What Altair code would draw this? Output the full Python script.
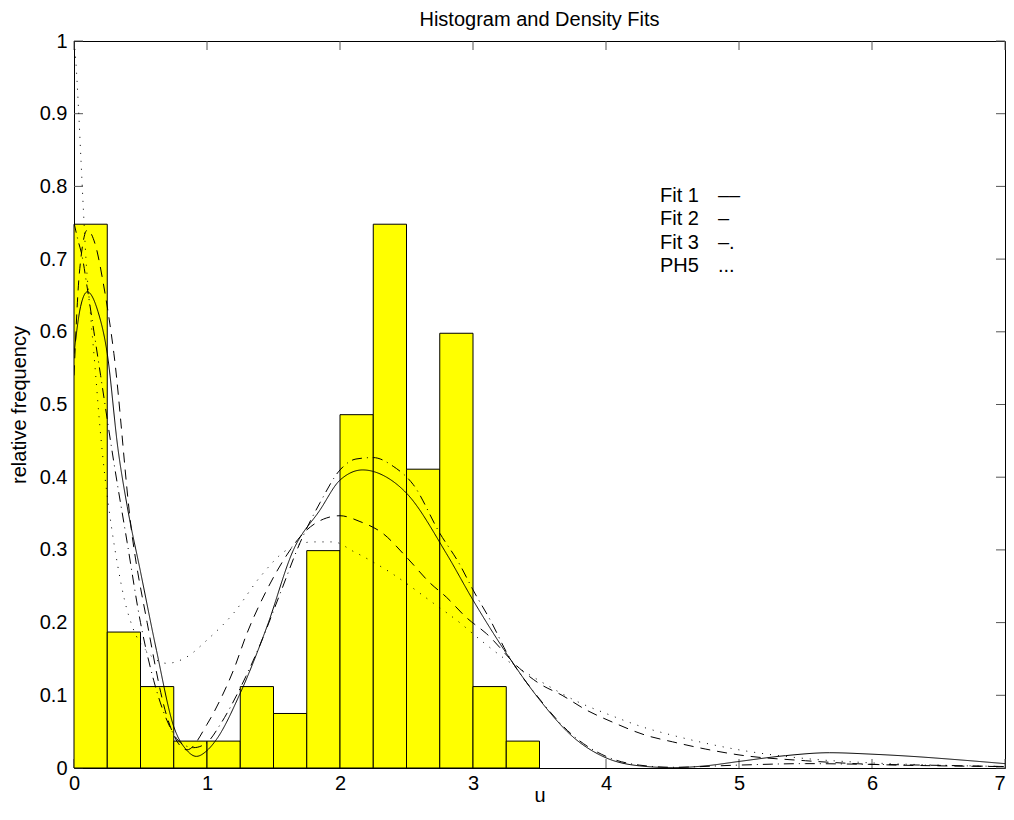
import altair as alt
import pandas as pd

# ---------------- data ----------------
bin_left = [0, 0.25, 0.5, 0.75, 1.0, 1.25, 1.5, 1.75, 2.0, 2.25, 2.5, 2.75, 3.0, 3.25]
bin_width = 0.25
bin_height = [0.748, 0.187, 0.112, 0.037, 0.037, 0.112, 0.075, 0.299, 0.486, 0.748, 0.411, 0.598, 0.112, 0.037]

fit1_u = [0, 0.04, 0.1, 0.16, 0.22, 0.3, 0.43, 0.55, 0.7, 0.85, 1.0, 1.1, 1.2, 1.3, 1.45, 1.6, 1.7, 1.9, 2.0,
          2.15, 2.32, 2.5, 2.68, 2.8, 2.95, 3.1, 3.35, 3.5, 3.67, 3.85, 4.05, 4.3, 4.5, 4.75, 5.0, 5.5, 6.0, 6.5, 7.0]
fit1_y = [0.54, 0.68, 0.74, 0.72, 0.667, 0.57, 0.33, 0.2, 0.07, 0.025, 0.06, 0.094, 0.135, 0.185, 0.245, 0.293,
          0.318, 0.344, 0.347, 0.339, 0.323, 0.29, 0.254, 0.235, 0.207, 0.185, 0.137, 0.116, 0.1, 0.08, 0.063,
          0.045, 0.036, 0.026, 0.018, 0.01, 0.005, 0.003, 0.002]

fit2_u = [0, 0.05, 0.1, 0.18, 0.25, 0.33, 0.4, 0.5, 0.62, 0.75, 0.85, 0.92, 1.0, 1.07, 1.25, 1.45, 1.65, 1.85,
          2.0, 2.17, 2.35, 2.5, 2.8, 3.0, 3.25, 3.5, 3.75, 4.0, 4.25, 4.5, 4.75, 5.0, 5.35, 5.68, 6.0, 6.3, 6.6, 7.0]
fit2_y = [0.57, 0.635, 0.655, 0.628, 0.57, 0.44, 0.36, 0.27, 0.162, 0.057, 0.024, 0.016, 0.024, 0.039, 0.103,
          0.194, 0.3, 0.355, 0.396, 0.41, 0.4, 0.378, 0.295, 0.231, 0.158, 0.094, 0.043, 0.014, 0.003, 0.0005,
          0.003, 0.009, 0.017, 0.021, 0.019, 0.016, 0.012, 0.006]

fit3_u = [0, 0.03, 0.06, 0.1, 0.15, 0.2, 0.3, 0.4, 0.5, 0.6, 0.7, 0.8, 0.9, 1.0, 1.1, 1.25, 1.4, 1.55, 1.7,
          1.85, 2.0, 2.12, 2.25, 2.4, 2.55, 2.75, 2.9, 3.0, 3.14, 3.25, 3.5, 3.75, 4.0, 4.25, 4.5, 5.0, 5.5, 6.0, 7.0]
fit3_y = [0.75, 0.726, 0.705, 0.66, 0.6, 0.54, 0.42, 0.31, 0.2, 0.12, 0.065, 0.035, 0.028, 0.035, 0.06, 0.11,
          0.17, 0.24, 0.31, 0.365, 0.41, 0.425, 0.427, 0.415, 0.39, 0.323, 0.28, 0.245, 0.2, 0.16, 0.095, 0.045,
          0.016, 0.004, 0.001, 0.004, 0.006, 0.005, 0.002]

ph5_u = [0, 0.013, 0.033, 0.053, 0.07, 0.09, 0.12, 0.158, 0.195, 0.233, 0.283, 0.33, 0.38, 0.44, 0.55, 0.7,
         0.85, 1.0, 1.2, 1.4, 1.6, 1.8, 1.95, 2.1, 2.37, 2.7, 2.9, 3.03, 3.24, 3.5, 3.8, 4.0, 4.3, 4.5, 5.0,
         5.5, 6.0, 6.5, 7.0]
ph5_y = [1.0, 0.974, 0.91, 0.834, 0.77, 0.7, 0.633, 0.552, 0.469, 0.4, 0.33, 0.277, 0.231, 0.194, 0.16, 0.144,
         0.153, 0.176, 0.213, 0.263, 0.3, 0.311, 0.311, 0.298, 0.27, 0.227, 0.2, 0.18, 0.15, 0.12, 0.09, 0.075,
         0.055, 0.045, 0.025, 0.013, 0.007, 0.004, 0.002]

series_names = ["Fit 1", "Fit 2", "Fit 3", "PH5"]
legend_symbols = ["––", "–", "–.", "..."]
x_ticks = [0, 1, 2, 3, 4, 5, 6, 7]
y_ticks = [0, 0.1, 0.2, 0.3, 0.4, 0.5, 0.6, 0.7, 0.8, 0.9, 1.0]
title_text = "Histogram and Density Fits"
x_title = "u"
y_title = "relative frequency"

# ---------------- tables ----------------
bars = pd.DataFrame({
    "left": bin_left,
    "right": [b + bin_width for b in bin_left],
    "h": bin_height,
})

curves = []
for name, us, ys in zip(series_names, [fit1_u, fit2_u, fit3_u, ph5_u], [fit1_y, fit2_y, fit3_y, ph5_y]):
    for u, y in zip(us, ys):
        curves.append({"series": name, "u": u, "y": y})
curves = pd.DataFrame(curves)

xt = pd.DataFrame({"v": x_ticks})
yt = pd.DataFrame({"v": y_ticks})

W, H = 931, 727
PAD_L, PAD_T, PAD_R, PAD_B = 66, 33, 1, 38
FONT = "Liberation Sans"
FS = 20

xscale = alt.Scale(domain=[0, 7], nice=False, zero=False)
yscale = alt.Scale(domain=[0, 1], nice=False)

base_x = alt.X("v:Q", scale=xscale)
base_y = alt.Y("v:Q", scale=yscale)

# inward ticks
tick_color = "#555555"
yt_left = alt.Chart(yt).mark_rule(color=tick_color).encode(y=base_y, x=alt.value(0), x2=alt.value(9))
yt_right = alt.Chart(yt).mark_rule(color=tick_color).encode(y=base_y, x=alt.value(W - 9), x2=alt.value(W))
xt_bot = alt.Chart(xt).mark_rule(color=tick_color).encode(x=base_x, y=alt.value(H - 9), y2=alt.value(H))
xt_top = alt.Chart(xt).mark_rule(color=tick_color).encode(x=base_x, y=alt.value(0), y2=alt.value(9))

# axes (labels only)
axes = alt.Chart(xt).mark_point(opacity=0).encode(
    x=alt.X("v:Q", scale=xscale,
            axis=alt.Axis(values=x_ticks, title=x_title, ticks=False, domain=False, grid=False,
                          labelPadding=5, format="d", labelFlush=False,
                          labelAlign={"expr": "datum.value >= 7 ? 'right' : 'center'"},
                          titleY=33, titleBaseline="alphabetic")),
    y=alt.Y("v2:Q", scale=yscale,
            axis=alt.Axis(values=y_ticks, title=y_title, ticks=False, domain=False, grid=False,
                          labelPadding=7, titlePadding=10, format=".1~f", labelFlush=False)),
).transform_calculate(v2="0")

hist = alt.Chart(bars).mark_rect(fill="#ffff00", stroke="black", strokeWidth=1).encode(
    x=alt.X("left:Q", scale=xscale),
    x2="right:Q",
    y=alt.Y("h:Q", scale=yscale),
    y2=alt.datum(0),
)

lines = alt.Chart(curves).mark_line(color="black", strokeWidth=1, interpolate="monotone", clip=True).encode(
    x=alt.X("u:Q", scale=xscale),
    y=alt.Y("y:Q", scale=yscale),
    detail="series:N",
    strokeDash=alt.StrokeDash("series:N",
                              scale=alt.Scale(domain=series_names,
                                              range=[[10, 7], [1, 0], [10, 5, 1, 5], [1, 7]]),
                              legend=None),
)

leg_layers = []
row_y = [155, 178, 202, 225]
for i in range(4):
    leg_layers.append(
        alt.Chart(pd.DataFrame({"t": [series_names[i]]})).mark_text(
            font=FONT, fontSize=FS, align="left", baseline="middle", color="black"
        ).encode(text="t:N", x=alt.value(586), y=alt.value(row_y[i]))
    )
    leg_layers.append(
        alt.Chart(pd.DataFrame({"t": [legend_symbols[i]]})).mark_text(
            font=FONT, fontSize=FS, align="left", baseline="middle", color="black"
        ).encode(text="t:N", x=alt.value(644), y=alt.value(row_y[i]))
    )

title = alt.Chart(pd.DataFrame({"t": [title_text]})).mark_text(
    font=FONT, fontSize=FS, align="center", baseline="alphabetic", color="black"
).encode(text="t:N", x=alt.value(W / 2), y=alt.value(-15))

chart = alt.layer(
    axes, yt_left, yt_right, xt_bot, xt_top, hist, lines, title, *leg_layers
).properties(
    width=W,
    height=H,
    autosize=alt.AutoSizeParams(type="none"),
    padding={"left": PAD_L, "top": PAD_T, "right": PAD_R, "bottom": PAD_B},
).configure_view(
    stroke="black", strokeWidth=1
).configure_axis(
    labelFont=FONT, labelFontSize=FS, labelColor="black",
    titleFont=FONT, titleFontSize=FS, titleFontWeight="normal", titleColor="black",
)

chart.save("out.html", embed_options={"renderer": "svg", "actions": False})
